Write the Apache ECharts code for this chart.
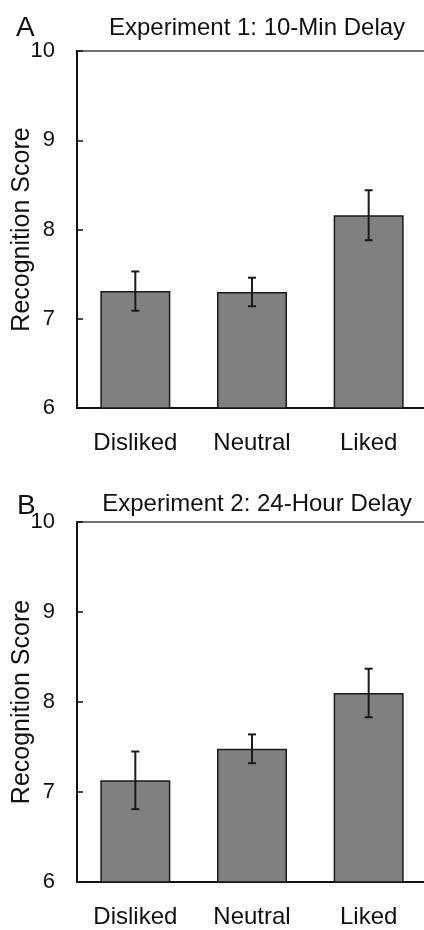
<!DOCTYPE html>
<html>
<head>
<meta charset="utf-8">
<script src="https://cdn.jsdelivr.net/npm/echarts@6/dist/echarts.min.js"></script>
<style>
html, body { margin: 0; padding: 0; background: #fff; }
#chart1 { width: 424px; height: 930px; }
</style>
</head>
<body>
<div id="chart1"></div>
<script>
var categories = ['Disliked', 'Neutral', 'Liked'];
var exp1Means = [7.31, 7.30, 8.16];
var exp1Err = [0.22, 0.16, 0.28];
var exp2Means = [7.13, 7.48, 8.10];
var exp2Err = [0.32, 0.16, 0.27];
var panelTitles = ['Experiment 1: 10-Min Delay', 'Experiment 2: 24-Hour Delay'];
var panelLetters = ['A', 'B'];
var yTicks = [6, 7, 8, 9, 10];

var FONT = 'Liberation Sans, Arial, Helvetica, sans-serif';

var myChart = echarts.init(document.getElementById('chart1'));

function errData(means, errs) {
	return means.map(function (m, i) {
		return [i, m - errs[i], m + errs[i]];
	});
}

// 误差线
function renderErr(params, api) {
	var x = api.value(0);
	var lo = api.coord([x, api.value(1)]);
	var hi = api.coord([x, api.value(2)]);
	var cap = 4;
	var st = { stroke: '#1a1a1a', lineWidth: 2 };
	return {
		type: 'group',
		children: [
			{ type: 'line', shape: { x1: lo[0], y1: lo[1], x2: hi[0], y2: hi[1] }, style: st },
			{ type: 'line', shape: { x1: lo[0] - cap, y1: lo[1], x2: lo[0] + cap, y2: lo[1] }, style: st },
			{ type: 'line', shape: { x1: hi[0] - cap, y1: hi[1], x2: hi[0] + cap, y2: hi[1] }, style: st }
		]
	};
}

function xAxisFor(idx) {
	return {
		type: 'category',
		gridIndex: idx,
		data: categories,
		axisLine: { lineStyle: { color: '#111', width: 2 } },
		axisTick: { show: false },
		axisLabel: { color: '#111', fontSize: 24, fontFamily: FONT, margin: 23 }
	};
}

function yAxisFor(idx) {
	return {
		type: 'value',
		gridIndex: idx,
		min: yTicks[0],
		max: yTicks[yTicks.length - 1],
		interval: 1,
		name: 'Recognition Score',
		nameLocation: 'middle',
		nameGap: 42,
		nameMoveOverlap: false,
		nameTextStyle: { color: '#111', fontSize: 25, fontFamily: FONT },
		axisLine: { show: true, lineStyle: { color: '#111', width: 2 } },
		axisTick: { show: true, inside: true, length: 6, lineStyle: { color: '#111', width: 1.5 } },
		axisLabel: { color: '#111', fontSize: 22, fontFamily: FONT, margin: 22 },
		splitLine: { show: false }
	};
}

var gridTops = [51, 522];
var gridHeights = [357, 360];

var option = {
	backgroundColor: '#fff',
	animation: false,
	title: [
		{ text: panelLetters[0], left: 11, top: 9, textStyle: { fontSize: 28, fontWeight: 'normal', color: '#111', fontFamily: FONT } },
		{ text: panelTitles[0], left: 252, textAlign: 'center', top: 11, textStyle: { fontSize: 24, fontWeight: 'normal', color: '#111', fontFamily: FONT } },
		{ text: panelLetters[1], left: 12, top: 487, textStyle: { fontSize: 28, fontWeight: 'normal', color: '#111', fontFamily: FONT } },
		{ text: panelTitles[1], left: 252, textAlign: 'center', top: 487, textStyle: { fontSize: 24, fontWeight: 'normal', color: '#111', fontFamily: FONT } }
	],
	grid: [
		{ left: 77, top: gridTops[0], width: 350, height: gridHeights[0], show: true, borderColor: '#444', borderWidth: 1.5, outerBoundsMode: 'none', containLabel: false },
		{ left: 77, top: gridTops[1], width: 350, height: gridHeights[1], show: true, borderColor: '#444', borderWidth: 1.5, outerBoundsMode: 'none', containLabel: false }
	],
	xAxis: [xAxisFor(0), xAxisFor(1)],
	yAxis: [yAxisFor(0), yAxisFor(1)],
	series: [
		{
			type: 'bar', xAxisIndex: 0, yAxisIndex: 0, data: exp1Means, barWidth: '60%',
			itemStyle: { color: '#808080', borderColor: '#1a1a1a', borderWidth: 1.5 }
		},
		{
			type: 'custom', xAxisIndex: 0, yAxisIndex: 0, renderItem: renderErr,
			data: errData(exp1Means, exp1Err), z: 5
		},
		{
			type: 'bar', xAxisIndex: 1, yAxisIndex: 1, data: exp2Means, barWidth: '60%',
			itemStyle: { color: '#808080', borderColor: '#1a1a1a', borderWidth: 1.5 }
		},
		{
			type: 'custom', xAxisIndex: 1, yAxisIndex: 1, renderItem: renderErr,
			data: errData(exp2Means, exp2Err), z: 5
		}
	]
};

myChart.setOption(option);
</script>
</body>
</html>
